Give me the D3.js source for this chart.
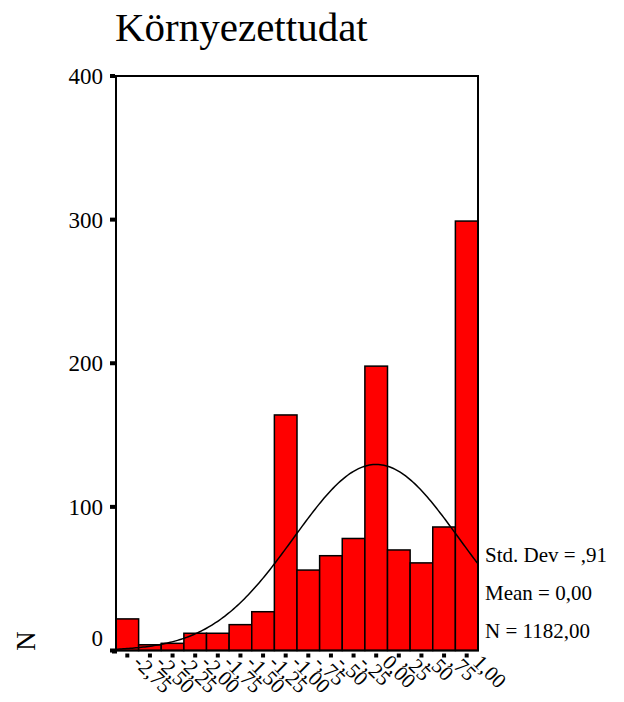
<!DOCTYPE html>
<html>
<head>
<meta charset="utf-8">
<script src="https://cdn.jsdelivr.net/npm/d3@7"></script>
<style>
    body { margin: 0; background: #fff; }
    text { font-family: "Liberation Serif", "Times New Roman", serif; fill: #000; }
</style>
</head>
<body>
<svg id="chart" width="624" height="702"></svg>
<script>
// Histogram data (bin midpoints and counts)
const binMids = [-2.75, -2.5, -2.25, -2.0, -1.75, -1.5, -1.25, -1.0, -0.75, -0.5, -0.25, 0.0, 0.25, 0.5, 0.75, 1.0];
const binLabels = ["-2,75", "-2,50", "-2,25", "-2,00", "-1,75", "-1,50", "-1,25", "-1,00", "-,75", "-,50", "-,25", "0,00", ",25", ",50", ",75", "1,00"];
const counts = [22, 4, 5, 12, 12, 18, 27, 164, 56, 66, 78, 198, 70, 61, 86, 299];
const yTicks = [0, 100, 200, 300, 400];

// Summary statistics shown on the chart
const stdDev = 0.91;
const mean = 0.0;
const total = 1182;
const statLines = ["Std. Dev = ,91", "Mean = 0,00", "N = 1182,00"];
const binWidth = 0.25;

let svg = d3.select("#chart");

// Plot area
let plotLeft = 116, plotRight = 478, plotTop = 76, plotBottom = 650.5;

let x = d3.scaleLinear()
    .domain([binMids[0] - binWidth / 2, binMids[binMids.length - 1] + binWidth / 2])
    .range([plotLeft, plotRight]);

let y = d3.scaleLinear()
    .domain([0, 400])
    .range([plotBottom, plotTop]);

// Title
svg.append("text")
    .attr("x", 115)
    .attr("y", 41)
    .style("font-size", "41px")
    .text("Környezettudat");

// Bars
svg.append("g")
    .selectAll("rect")
    .data(counts)
    .enter()
    .append("rect")
    .attr("x", (d, i) => x(binMids[i] - binWidth / 2))
    .attr("y", (d) => y(d))
    .attr("width", x(binWidth) - x(0))
    .attr("height", (d) => y(0) - y(d))
    .attr("fill", "#ff0000")
    .attr("stroke", "#000")
    .attr("stroke-width", 1.5);

// Normal curve from mean, std dev and N
let curveX = d3.range(0, 201).map(i => x.domain()[0] + (x.domain()[1] - x.domain()[0]) * i / 200);
let normal = (v) => total * binWidth / (stdDev * Math.sqrt(2 * Math.PI)) * Math.exp(-0.5 * Math.pow((v - mean) / stdDev, 2));

svg.append("path")
    .datum(curveX)
    .attr("fill", "none")
    .attr("stroke", "#000")
    .attr("stroke-width", 1.5)
    .attr("d", d3.line().x(d => x(d)).y(d => y(normal(d))));

// Frame
svg.append("rect")
    .attr("x", plotLeft)
    .attr("y", plotTop)
    .attr("width", plotRight - plotLeft)
    .attr("height", plotBottom - plotTop)
    .attr("fill", "none")
    .attr("stroke", "#000")
    .attr("stroke-width", 2);

// Y axis ticks and labels
let yAxis = svg.append("g");
yAxis.selectAll("rect")
    .data(yTicks)
    .enter()
    .append("rect")
    .attr("x", plotLeft - 6)
    .attr("y", d => y(d) - 2)
    .attr("width", 5)
    .attr("height", 4)
    .attr("fill", "#000");

// the 0 label sits a little above its tick, like the original
yAxis.selectAll("text")
    .data(yTicks)
    .enter()
    .append("text")
    .attr("x", plotLeft - 13)
    .attr("y", d => y(d) + 8 - (d === 0 ? 13 : 0))
    .attr("text-anchor", "end")
    .style("font-size", "23px")
    .text(d => d);

// Y axis title
svg.append("text")
    .attr("transform", "translate(35,641) rotate(-90)")
    .attr("text-anchor", "middle")
    .style("font-size", "27px")
    .text("N");

// X axis ticks and labels
let xAxis = svg.append("g");
xAxis.append("rect")
    .attr("x", plotLeft - 4)
    .attr("y", plotBottom - 1)
    .attr("width", 5)
    .attr("height", 4)
    .attr("fill", "#000");

xAxis.selectAll("rect.tick")
    .data(binMids)
    .enter()
    .append("rect")
    .attr("class", "tick")
    .attr("x", d => x(d) - 2)
    .attr("y", plotBottom + 3)
    .attr("width", 4)
    .attr("height", 4)
    .attr("fill", "#000");

xAxis.selectAll("text")
    .data(binMids)
    .enter()
    .append("text")
    .attr("transform", d => `translate(${x(d) + 5},${plotBottom + 13}) rotate(45)`)
    .style("font-size", "21px")
    .text((d, i) => binLabels[i]);

// Stats box
svg.append("g")
    .selectAll("text")
    .data(statLines)
    .enter()
    .append("text")
    .attr("x", 485)
    .attr("y", (d, i) => 562 + i * 38)
    .style("font-size", "21px")
    .text(d => d);
</script>
</body>
</html>
